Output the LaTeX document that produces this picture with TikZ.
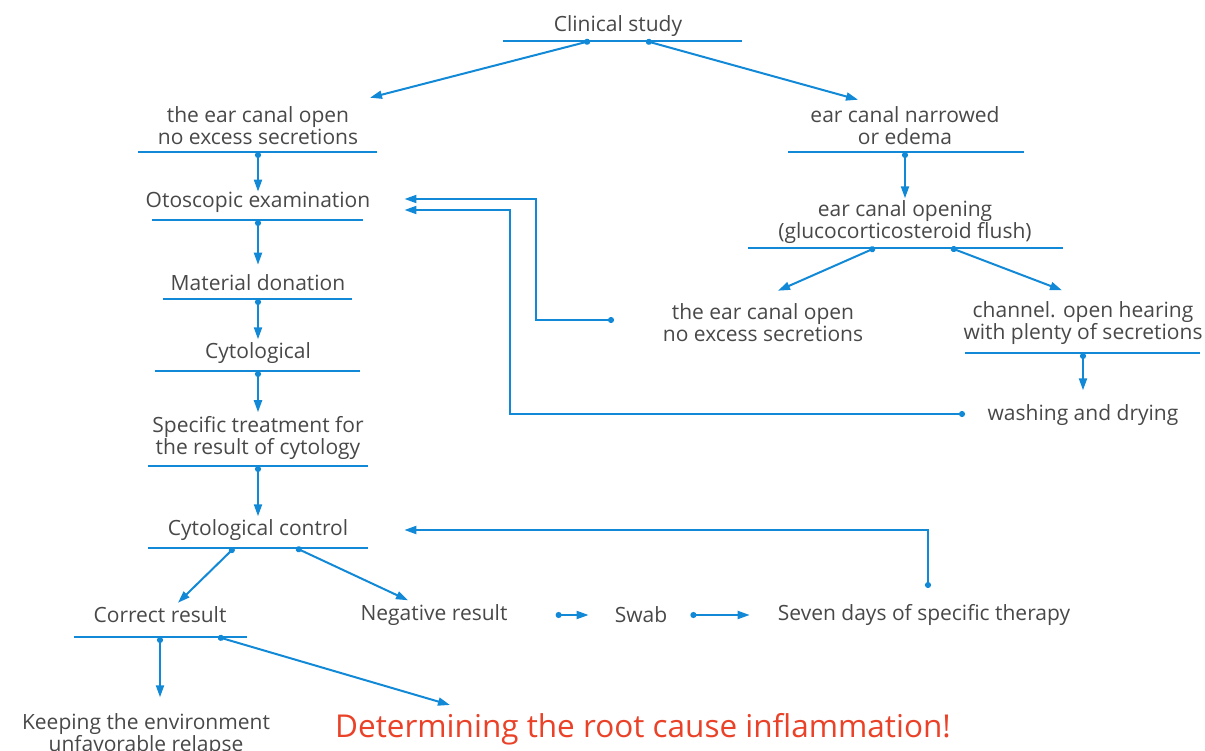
\documentclass[tikz,border=0pt]{standalone}
\usepackage{fontspec}
\setmainfont{Open Sans}
\usetikzlibrary{arrows.meta,positioning}
\definecolor{flowblue}{RGB}{18,137,214}
\definecolor{txtgray}{RGB}{72,72,72}
\definecolor{alertred}{RGB}{234,66,40}
\tikzset{
  lbl/.style={text=txtgray, align=center, inner sep=0pt, yshift=-2pt,
    font=\fontsize{21}{22}\selectfont},
  bar/.style={draw=flowblue, line width=2pt},
  flow/.style={draw=flowblue, line width=2pt,
    {Circle[length=6pt]}-{Triangle[length=12pt,width=8pt]}},
}
\begin{document}
\begin{tikzpicture}[x=1pt,y=-1pt]
\useasboundingbox (0,0) rectangle (1205,751);

% left column
\node[lbl] (clin) at (618,24) {Clinical study};
\draw[bar] (503,41) -- (742,41);
\coordinate (clin-l) at (590,41);
\coordinate (clin-r) at (646,41);

\node[lbl] (open) at (258,124) {the ear canal open\\no excess secretions};
\draw[bar] (138,152) -- (377,152);
\coordinate (open-b) at (258,152);

\node[lbl] (otos) at (258,200) {Otoscopic examination};
\draw[bar] (152,220) -- (363,220);
\coordinate (otos-b) at (258,220);

\node[lbl] (mat) at (258,281) {Material donation};
\draw[bar] (163,299) -- (352,299);
\coordinate (mat-b) at (258,299);

\node[lbl] (cyto) at (258,351) {Cytological};
\draw[bar] (155,371) -- (360,371);
\coordinate (cyto-b) at (258,371);

\node[lbl] (treat) at (258,436) {Specific treatment for\\the result of cytology};
\draw[bar] (148,466) -- (368,466);
\coordinate (treat-b) at (258,466);

\node[lbl] (ctrl) at (258,528) {Cytological control};
\draw[bar] (148,548) -- (368,548);
\coordinate (ctrl-l) at (234,548);
\coordinate (ctrl-r) at (296,548);

\node[lbl] (corr) at (160,613) {Correct result};
\draw[bar] (74,637) -- (247,637);
\coordinate (corr-l) at (160,637);
\coordinate (corr-r) at (218,637);

\node[lbl] (keep) at (146,733) {Keeping the environment\\unfavorable relapse};
\node[lbl, text=alertred, font=\fontsize{31.5}{34}\selectfont] (root) at (643,727)
  {Determining the root cause inflammation!};

% bottom row
\node[lbl] (neg) at (434,613) {Negative result};
\node[lbl] (swab) at (641,613) {Swab};
\node[lbl] (seven) at (924,613) {Seven days of specific therapy};
\coordinate (seven-t) at (928,588);

% right column
\node[lbl] (narrow) at (905,124) {ear canal narrowed\\or edema};
\draw[bar] (788,152) -- (1024,152);
\coordinate (narrow-b) at (905,152);

\node[lbl] (flush) at (905,220) {ear canal opening\\(glucocorticosteroid flush)};
\draw[bar] (748,248) -- (1063,248);
\coordinate (flush-l) at (875,248);
\coordinate (flush-r) at (951,248);

\node[lbl] (open2) at (763,321) {the ear canal open\\no excess secretions};
\coordinate (open2-w) at (614,320);

\node[lbl] (plenty) at (1083,321) {channel. open hearing\\with plenty of secretions};
\draw[bar] (965,353) -- (1200,353);
\coordinate (plenty-b) at (1083,353);

\node[lbl] (wash) at (1083,413) {washing and drying};
\coordinate (wash-w) at (965,414);

% connectors
\draw[flow] (clin-l) -- ([xshift=112pt,yshift=9pt]open.north);
\draw[flow] (clin-r) -- ([xshift=-47pt,yshift=7pt]narrow.north);
\draw[flow] (open-b) -- (otos);
\draw[flow] (otos-b) -- ([yshift=10pt]mat.north);
\draw[flow] (mat-b) -- ([yshift=3pt]cyto.north);
\draw[flow] (cyto-b) -- ([yshift=4pt]treat.north);
\draw[flow] (treat-b) -- ([yshift=3pt]ctrl.north);
\draw[flow] (ctrl-l) -- ([xshift=18pt,yshift=4pt]corr.north);
\draw[flow] (ctrl-r) -- ([xshift=-26pt,yshift=4pt]neg.north);
\draw[flow] (corr-l) -- ([xshift=14pt,yshift=16pt]keep.north);
\draw[flow] (corr-r) -- ([xshift=115pt,yshift=8pt]root.north west);
\draw[flow, shorten <=48pt, shorten >=26pt] (neg) -- (swab);
\draw[flow, shorten <=23pt, shorten >=28pt] (swab) -- (seven);
\draw[flow] (seven-t) |- ([xshift=56pt]ctrl.east);

\draw[flow] (narrow-b) -- ([yshift=2pt]flush.north);
\draw[flow] (flush-l) -- ([xshift=15pt,yshift=13pt]open2.north);
\draw[flow] (flush-r) -- ([xshift=-21pt,yshift=11pt]plenty.north);
\draw[flow] (plenty-b) -- ([yshift=14pt]wash.north);
\draw[flow] (open2-w) -- +(-78,0) |- ([xshift=34pt,yshift=3pt]otos.east);
\draw[flow] (wash-w) -- +(-455,0) |- ([xshift=34pt,yshift=-8pt]otos.east);
\end{tikzpicture}
\end{document}
